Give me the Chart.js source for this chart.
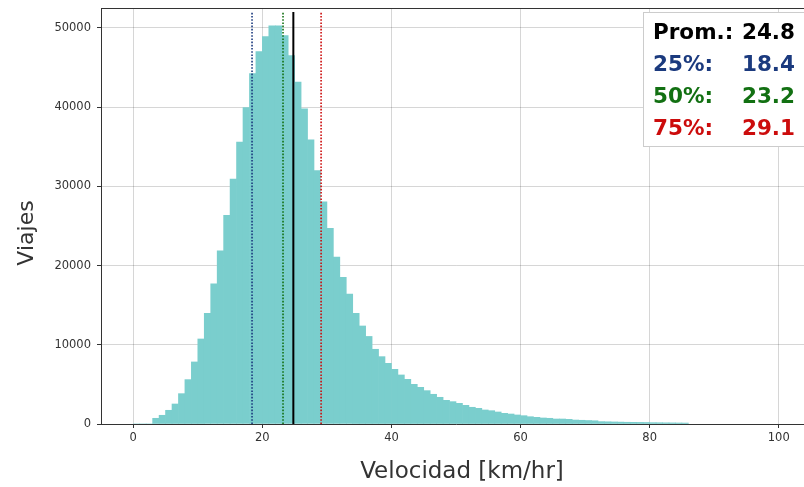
<!DOCTYPE html>
<html>
<head>
<meta charset="utf-8">
<script src="https://cdn.jsdelivr.net/npm/chart.js@4.4.1/dist/chart.umd.min.js"></script>
<style>
  html, body { margin: 0; padding: 0; background: #fff; overflow: hidden; }
  #wrap { width: 812px; height: 487px; }
</style>
</head>
<body>
<div id="wrap"><canvas id="myChart" width="812" height="487"></canvas></div>
<script>
// Histogram bins: 1 km/hr wide, left edges
const binStart = [
  0, 1, 2, 3, 4, 5, 6, 7, 8, 9, 10, 11, 12, 13, 14, 15, 16, 17, 18, 19,
  20, 21, 22, 23, 24, 25, 26, 27, 28, 29, 30, 31, 32, 33, 34, 35, 36, 37, 38, 39,
  40, 41, 42, 43, 44, 45, 46, 47, 48, 49, 50, 51, 52, 53, 54, 55, 56, 57, 58, 59,
  60, 61, 62, 63, 64, 65, 66, 67, 68, 69, 70, 71, 72, 73, 74, 75, 76, 77, 78, 79,
  80, 81, 82, 83, 84, 85
];

// Trips per bin
const tripCounts = [
  0, 0, 0, 720, 1100, 1730, 2525, 3830, 5600, 7830,
  10730, 13970, 17680, 21840, 26350, 30900, 35570, 39940, 44230, 47010,
  48900, 50250, 50250, 49030, 46500, 43140, 39770, 35860, 31980, 28030,
  24700, 21050, 18520, 16410, 13970, 12370, 11050, 9430, 8500, 7660,
  6900, 6190, 5640, 5010, 4630, 4210, 3750, 3370, 2990, 2820,
  2610, 2360, 2110, 1980, 1770, 1680, 1515, 1350, 1260, 1140,
  1050, 920, 840, 760, 720, 630, 630, 590, 500, 470,
  440, 410, 300, 280, 260, 240, 220, 210, 200, 190,
  170, 160, 150, 140, 130, 120
];

const xTicks = [0, 20, 40, 60, 80, 100];
const yTicks = [0, 10000, 20000, 30000, 40000, 50000];

// Summary stats
const statLabels = ["Prom.:", "25%:", "50%:", "75%:"];
const statValues = [24.8, 18.4, 23.2, 29.1];
const statColors = ["#000000", "#1b3a7e", "#127012", "#cc0c0c"];
const lineTop = 52000;

const xTitle = "Velocidad [km/hr]";
const yTitle = "Viajes";

const ctx = document.getElementById("myChart").getContext("2d");

// vertical marker lines: mean (solid) + quartiles (dotted)
const markerOrder = [1, 2, 0, 3];
const markerSets = markerOrder.map((i) => ({
  type: "line",
  data: [{ x: statValues[i], y: 0 }, { x: statValues[i], y: lineTop }],
  borderColor: statColors[i],
  borderWidth: i === 0 ? 2 : 1.6,
  borderDash: i === 0 ? [] : [1.6, 1.6],
  pointRadius: 0,
  fill: false,
}));

// white box with the numbers, top right
const statsBox = {
  id: "statsBox",
  afterDraw(chart) {
    const c = chart.ctx;
    c.save();
    c.fillStyle = "#ffffff";
    c.strokeStyle = "#cccccc";
    c.lineWidth = 1;
    c.fillRect(643.5, 12.5, 180, 134);
    c.strokeRect(643.5, 12.5, 180, 134);
    c.font = "bold 21.5px 'DejaVu Sans'";
    c.textBaseline = "alphabetic";
    statLabels.forEach((lab, i) => {
      const y = 39 + i * 32;
      c.fillStyle = statColors[i];
      c.textAlign = "left";
      c.fillText(lab, 653, y);
      c.textAlign = "right";
      c.fillText(statValues[i].toFixed(1), 795, y);
    });
    c.restore();
  },
};

// top spine + axis titles
const frameAndTitles = {
  id: "frameAndTitles",
  afterDraw(chart) {
    const a = chart.chartArea;
    const c = chart.ctx;
    c.save();
    c.strokeStyle = "#333333";
    c.lineWidth = 1;
    c.beginPath();
    c.moveTo(a.left, a.top + 0.5);
    c.lineTo(a.right, a.top + 0.5);
    c.stroke();

    c.fillStyle = "#333333";
    c.textAlign = "center";
    c.textBaseline = "alphabetic";
    c.font = "23px 'DejaVu Sans'";
    c.fillText(xTitle, 462, 478);

    c.font = "22px 'DejaVu Sans'";
    c.translate(33, 233);
    c.rotate(-Math.PI / 2);
    c.fillText(yTitle, 0, 0);
    c.restore();
  },
};

new Chart(ctx, {
  type: "bar",
  data: {
    datasets: [
      {
        data: binStart.map((b, i) => ({ x: b + 0.5, y: tripCounts[i] })),
        backgroundColor: "rgb(122,206,205)",
        borderWidth: 0,
        barPercentage: 1,
        categoryPercentage: 1,
        grouped: false,
        order: 2,
      },
      ...markerSets,
    ],
  },
  options: {
    responsive: false,
    animation: false,
    layout: { padding: { top: 8, right: 1, left: 0, bottom: 0 } },
    plugins: { legend: { display: false }, tooltip: { enabled: false } },
    scales: {
      x: {
        type: "linear",
        min: -5,
        max: 105,
        offset: false,
        z: 1,
        afterBuildTicks: (s) => { s.ticks = xTicks.map((v) => ({ value: v })); },
        afterFit: (s) => { s.height = 63; s.paddingLeft = 0; s.paddingRight = 0; },
        grid: { offset: false, color: "rgba(0,0,0,0.16)", lineWidth: 1, tickColor: "#333", tickLength: 4 },
        border: { display: true, color: "#333", width: 1 },
        ticks: { color: "#333", font: { family: "DejaVu Sans", size: 11.5 }, padding: 3, maxRotation: 0,
          callback: (v) => String(v) },
      },
      y: {
        min: 0,
        max: 52500,
        z: 1,
        afterBuildTicks: (s) => { s.ticks = yTicks.map((v) => ({ value: v })); },
        afterFit: (s) => { s.width = 101; s.paddingTop = 0; s.paddingBottom = 0; },
        grid: { color: "rgba(0,0,0,0.16)", lineWidth: 1, tickColor: "#333", tickLength: 4 },
        border: { display: true, color: "#333", width: 1 },
        ticks: { color: "#333", font: { family: "DejaVu Sans", size: 11.5 }, padding: 6,
          callback: (v) => String(v) },
      },
    },
  },
  plugins: [frameAndTitles, statsBox],
});
</script>
</body>
</html>
